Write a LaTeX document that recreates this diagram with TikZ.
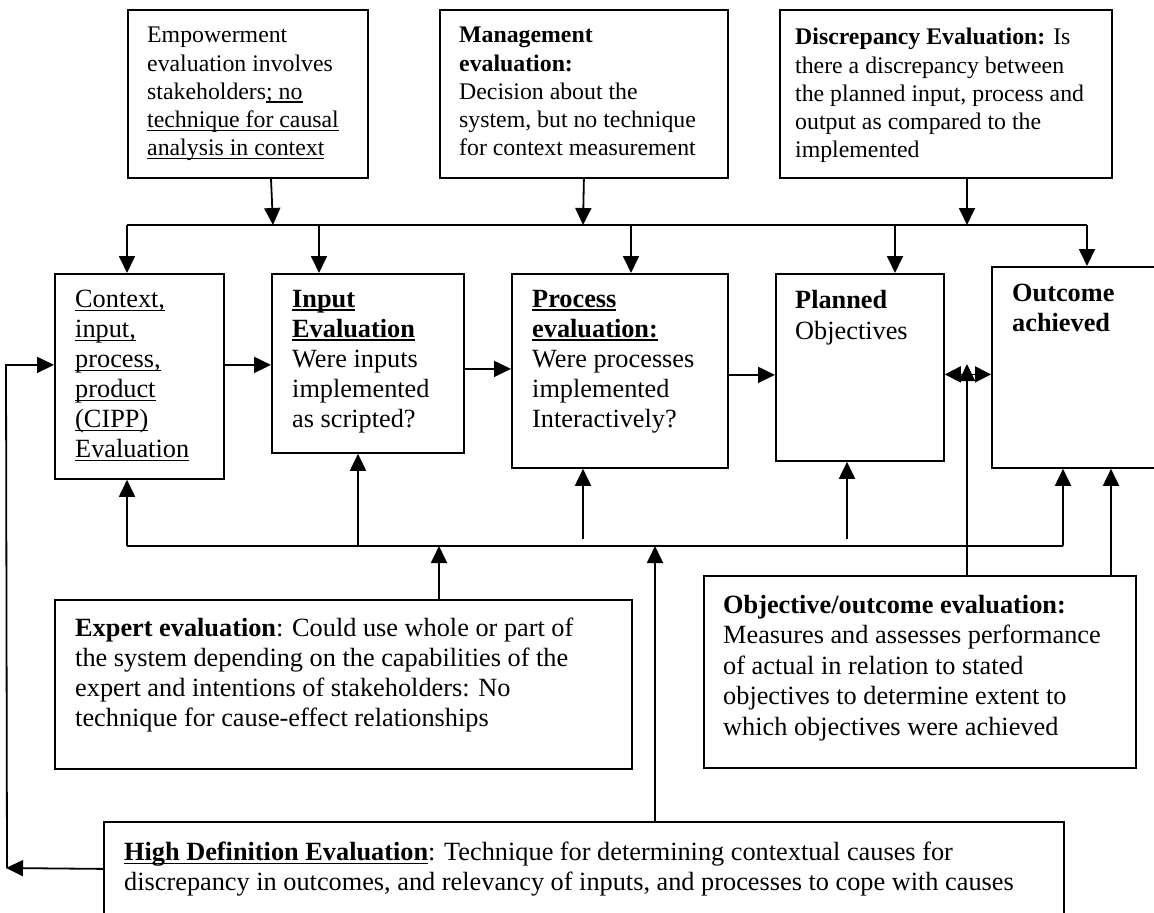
\documentclass[tikz,border=0pt]{standalone}
\usepackage{fontspec}
\setmainfont{Liberation Serif}
\newsavebox{\myulbox}
\newcommand{\myul}[1]{\sbox{\myulbox}{#1}\rlap{\rule[-3.4pt]{\wd\myulbox}{1.5pt}}\usebox{\myulbox}}
\usetikzlibrary{arrows.meta}
\tikzset{
  box/.style={draw, line width=1.8pt, inner sep=0pt, anchor=north west},
  small/.style={font=\fontsize{23.8}{28.3}\selectfont, align=left, inner sep=0pt, anchor=north west},
  big/.style={font=\fontsize{26.3}{30}\selectfont, align=left, inner sep=0pt, anchor=north west},
  arr/.style={line width=1.8pt, -{Triangle[length=17pt,width=16pt]}},
  darr/.style={line width=1.8pt, {Triangle[length=16pt,width=16pt]}-{Triangle[length=16pt,width=16pt]}},
  ln/.style={line width=1.8pt}
}
\begin{document}
\begin{tikzpicture}[x=1pt,y=-1pt]
\useasboundingbox (0,0) rectangle (1154,913);
\clip (0,0) rectangle (1154,913);
\fill[white] (0,0) rectangle (1154,913);
% boxes
\node[box, minimum width=240pt, minimum height=168pt] (emp) at (127,9) {};
\node[box, minimum width=288pt, minimum height=168pt] (mgt) at (439,9) {};
\node[box, minimum width=332pt, minimum height=168pt] (disc) at (779,9) {};
\node[box, minimum width=169pt, minimum height=205pt] (cipp) at (54,273) {};
\node[box, minimum width=192pt, minimum height=179pt] (inp) at (271,273) {};
\node[box, minimum width=216pt, minimum height=194pt] (proc) at (511,273) {};
\node[box, minimum width=168pt, minimum height=187pt] (plan) at (775,273) {};
\node[box, minimum width=180pt, minimum height=201pt] (out) at (991,266) {};
\node[box, minimum width=577pt, minimum height=169pt] (expert) at (54,599) {};
\node[box, minimum width=432pt, minimum height=192pt] (obj) at (703,575) {};
\node[box, minimum width=960pt, minimum height=94pt] (hd) at (103,821) {};
% texts
\node[small] (empT) at (147,27) {Empowerment\\ evaluation involves\\ stakeholders\myul{; no}\\ \myul{technique for causal}\\ \myul{analysis in context}};
\node[small] (mgtT) at (459,27) {\textbf{Management}\\ \textbf{evaluation:}\\ Decision about the\\ system, but no technique\\ for context measurement};
\node[small] (discT) at (795,28) {\textbf{Discrepancy Evaluation:} Is\\ there a discrepancy between\\ the planned input, process and\\ output as compared to the\\ implemented};
\node[big] (cippT) at (75,290) {\myul{Context,}\\ \myul{input,}\\ \myul{process,}\\ \myul{product}\\ \myul{(CIPP)}\\ \myul{Evaluation}};
\node[big] (inpT) at (292,290) {\textbf{\myul{Input}}\\ \textbf{\myul{Evaluation}}\\ Were inputs\\ implemented\\ as scripted?};
\node[big] (procT) at (532,290) {\textbf{\myul{Process}}\\ \textbf{\myul{evaluation:}}\\ Were processes\\ implemented\\ Interactively?};
\node[big, font=\fontsize{26.3}{31.5}\selectfont] (planT) at (795,290) {\textbf{Planned}\\ Objectives};
\node[big] (outT) at (1012,284) {\textbf{Outcome}\\ \textbf{achieved}};
\node[big] (expT) at (75,618) {\textbf{Expert evaluation}: Could use whole or part of\\ the system depending on the capabilities of the\\ expert and intentions of stakeholders: No\\ technique for cause-effect relationships};
\node[big, font=\fontsize{26.3}{30.5}\selectfont] (objT) at (723,595) {\textbf{Objective/outcome evaluation:}\\ Measures and assesses performance\\ of actual in relation to stated\\ objectives to determine extent to\\ which objectives were achieved};
\node[big] (hdT) at (124,842) {\textbf{\myul{High Definition Evaluation}}: Technique for determining contextual causes for\\ discrepancy in outcomes, and relevancy of inputs, and processes to cope with causes};
% coordinates
\coordinate (t1) at (273,225);
\coordinate (t2) at (583,225);
\coordinate (t3) at (967,225);
\coordinate (tL) at (127,225);
\coordinate (t4) at (319,225);
\coordinate (t5) at (631,225);
\coordinate (t6) at (895,225);
\coordinate (tR) at (1087,225);
\coordinate (bL) at (127,546);
\coordinate (b1) at (358,546);
\coordinate (b2) at (583,539);
\coordinate (b3) at (847,539);
\coordinate (bR) at (1063,546);
\coordinate (b4) at (439,546);
\coordinate (b5) at (655,546);
\coordinate (j1) at (967,364);
\coordinate (lb) at (6,868);
% top feeders
\draw[arr] ([xshift=144pt]emp.south west) -- (t1);
\draw[arr] (mgt.south) -- (t2);
\draw[arr] ([xshift=188pt]disc.south west) -- (t3);
\draw[ln] (tL) -- (tR);
\draw[arr] (tL) -- (tL |- cipp.north);
\draw[arr] (t4) -- (t4 |- inp.north);
\draw[arr] (t5) -- (t5 |- proc.north);
\draw[arr] (t6) -- (t6 |- plan.north);
\draw[arr] (tR) -- (tR |- out.north);
% horizontal chain
\draw[arr] ([yshift=11.5pt]cipp.east) coordinate (h1) -- (h1 -| inp.west);
\draw[arr] ([yshift=-5.5pt]inp.east) coordinate (h2) -- (h2 -| proc.west);
\draw[arr] ([yshift=-4pt]proc.east) coordinate (h3) -- (h3 -| plan.west);
\draw[darr] ([yshift=-7pt]plan.east) coordinate (h4) -- (h4 -| out.west);
% left loop
\draw[arr] (hd.west) -- (lb);
\draw[arr] ([xshift=1pt]lb) -- (lb |- h1) -- (h1 -| cipp.west);
% bottom bus
\draw[ln] (bL) -- (bR);
\draw[arr] (bL) -- (bL |- cipp.south);
\draw[arr] (b1) -- (b1 |- inp.south);
\draw[arr] (b2) -- (b2 |- proc.south);
\draw[arr] (b3) -- (b3 |- plan.south);
\draw[arr] (bR) -- (bR |- out.south);
\draw[arr] ([xshift=385pt]expert.north west) -- (b4);
\draw[arr] ([xshift=552pt]hd.north west) -- (b5);
\draw[arr] ([xshift=264pt]obj.north west) -- (j1);
\draw[arr] ([xshift=408pt]obj.north west) coordinate (o2) -- (o2 |- out.south);
\end{tikzpicture}
\end{document}
